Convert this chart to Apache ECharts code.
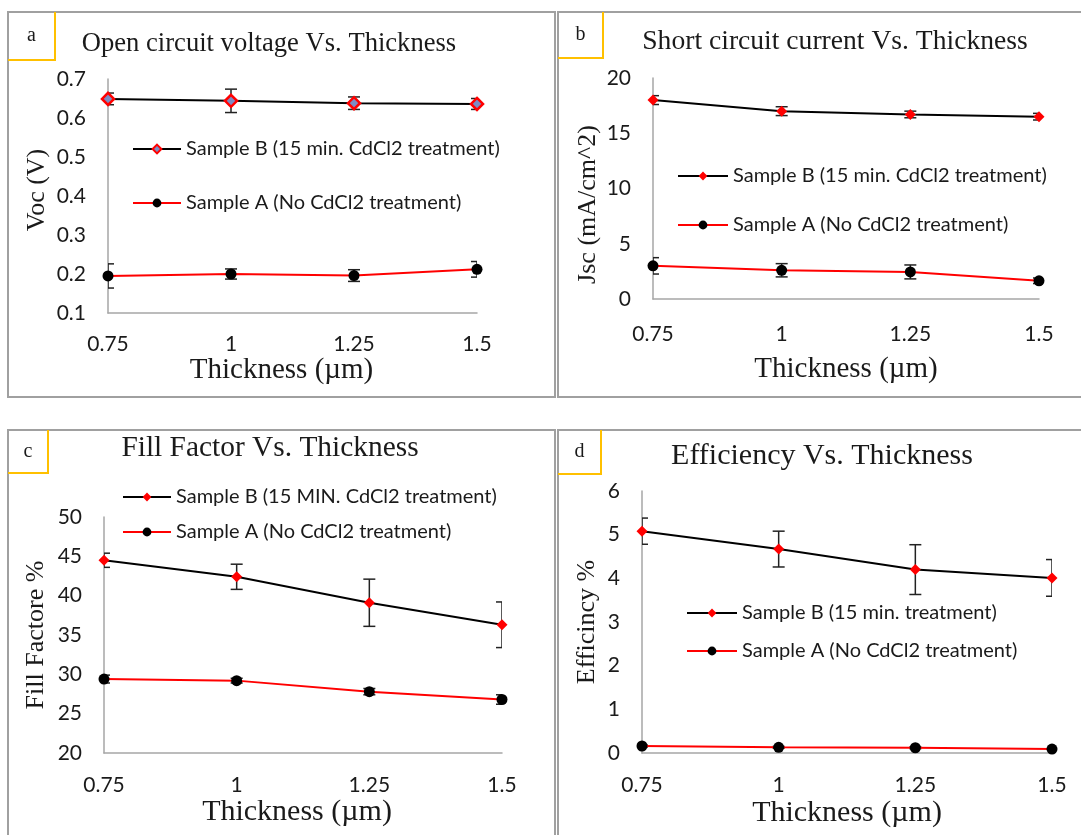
<!DOCTYPE html>
<html>
<head>
<meta charset="utf-8">
<title>CdTe cell parameters vs. thickness</title>
<script src="https://cdn.jsdelivr.net/npm/echarts@6/dist/echarts.min.js"></script>
<style>
  html, body { margin: 0; padding: 0; background: #ffffff; }
  #chart { width: 1081px; height: 835px; }
</style>
</head>
<body>
<div id="chart"></div>
<script>
// Absorber thickness (µm)
const thickness = [0.75, 1, 1.25, 1.5];

// (a) open circuit voltage, V
const vocB = [0.649, 0.644, 0.638, 0.636];
const vocBErr = [0.015, 0.03, 0.016, 0.014];
const vocA = [0.195, 0.200, 0.196, 0.212];
const vocAErr = [0.031, 0.013, 0.015, 0.02];

// (b) short circuit current density, mA/cm^2
const jscB = [18.0, 17.0, 16.7, 16.5];
const jscBErr = [0.4, 0.4, 0.3, 0.3];
const jscA = [3.0, 2.6, 2.45, 1.65];
const jscAErr = [0.74, 0.6, 0.63, 0.25];

// (c) fill factor, %
const ffB = [44.5, 42.4, 39.1, 36.3];
const ffBErr = [0.9, 1.6, 3.0, 2.9];
const ffA = [29.4, 29.2, 27.8, 26.8];
const ffAErr = [0.5, 0.3, 0.4, 0.6];

// (d) efficiency, %
const effB = [5.08, 4.67, 4.20, 4.01];
const effBErr = [0.30, 0.41, 0.57, 0.42];
const effA = [0.16, 0.13, 0.12, 0.09];
const effAErr = [0.02, 0.02, 0.02, 0.0];

// Legend wording per panel
const legendText = {
  vocB: 'Sample B (15 min. CdCl2 treatment)',
  vocA: 'Sample A (No CdCl2 treatment)',
  jscB: 'Sample B (15 min. CdCl2 treatment)',
  jscA: 'Sample A (No CdCl2 treatment)',
  ffB: 'Sample B (15 MIN. CdCl2 treatment)',
  ffA: 'Sample A (No CdCl2 treatment)',
  effB: 'Sample B (15 min. treatment)',
  effA: 'Sample A (No CdCl2 treatment)'
};

const panelTitles = ['Open circuit voltage Vs. Thickness', 'Short circuit current Vs. Thickness',
                     'Fill Factor Vs. Thickness', 'Efficiency Vs. Thickness'];
const panelLetters = ['a', 'b', 'c', 'd'];
const yNames = ['Voc (V)', 'Jsc (mA/cm^2)', 'Fill Factore %', 'Efficincy %'];
const xName = 'Thickness (µm)';

const SERIF = "'Liberation Serif', 'Times New Roman', serif";
const SANS = "Lato, 'Open Sans', sans-serif";
const TXT = '#1a1a1a';
const FRAME = '#a0a0a0';
const AXIS = '#a6a6a6';

// plot-area layout of each panel
const grids = [
  { left: 108, top: 79, width: 369, height: 234 },
  { left: 653, top: 78, width: 386, height: 221 },
  { left: 104, top: 517, width: 398, height: 236 },
  { left: 642, top: 491, width: 410, height: 262 }
];
const yRanges = [
  { min: 0.1, max: 0.7, interval: 0.1 },
  { min: 0, max: 20, interval: 5 },
  { min: 20, max: 50, interval: 5 },
  { min: 0, max: 6, interval: 1 }
];

const xLabelMargin = [21, 25, 22, 22];
const xNameGap = [42, 56, 44, 45];
const xNameSize = [29, 29, 30, 30];
const xNamePad = [[0, 22, 0, 0], 0, [0, 12, 0, 0], 0];
const yNameGap = [58, 52, 55, 42];
const yNamePad = [[0, 0, 0, 12], [0, 32, 0, 0], 0, 0];
const legends = [
  { left: 132, top: 139, itemGap: 34, itemWidth: 48 },
  { left: 677, top: 166, itemGap: 29, itemWidth: 50 },
  { left: 122, top: 487, itemGap: 15, itemWidth: 48 },
  { left: 686, top: 603, itemGap: 18, itemWidth: 50 }
];

function pairs(vals) { return thickness.map((x, i) => [x, vals[i]]); }
function bars(vals, errs) { return thickness.map((x, i) => [x, vals[i] - errs[i], vals[i] + errs[i]]); }

// vertical error bars with caps, clipped to the plot area
function errorBarSeries(idx, vals, errs) {
  return {
    type: 'custom',
    xAxisIndex: idx, yAxisIndex: idx,
    data: bars(vals, errs),
    encode: { x: 0, y: [1, 2] },
    clip: true,
    silent: true,
    z: 2,
    renderItem: function (params, api) {
      const x = api.value(0);
      const lo = api.coord([x, api.value(1)]);
      const hi = api.coord([x, api.value(2)]);
      const w = 6;
      const style = { stroke: '#222', lineWidth: 1.5, fill: null };
      return {
        type: 'group',
        children: [
          { type: 'line', shape: { x1: lo[0], y1: lo[1], x2: hi[0], y2: hi[1] }, style: style },
          { type: 'line', shape: { x1: hi[0] - w, y1: hi[1], x2: hi[0] + w, y2: hi[1] }, style: style },
          { type: 'line', shape: { x1: lo[0] - w, y1: lo[1], x2: lo[0] + w, y2: lo[1] }, style: style }
        ]
      };
    }
  };
}

function sampleB(idx, key, vals, fill) {
  return {
    type: 'line', name: key,
    xAxisIndex: idx, yAxisIndex: idx,
    data: pairs(vals),
    symbol: 'diamond', symbolSize: fill ? 12 : 11,
    showAllSymbol: true,
    lineStyle: { color: '#000000', width: 2 },
    itemStyle: fill
      ? { color: fill, borderColor: '#ff0000', borderWidth: 2.5 }
      : { color: '#ff0000' },
    z: 4, silent: true, animation: false
  };
}

function sampleA(idx, key, vals) {
  return {
    type: 'line', name: key,
    xAxisIndex: idx, yAxisIndex: idx,
    data: pairs(vals),
    symbol: 'circle', symbolSize: 11,
    lineStyle: { color: '#ff0000', width: 2 },
    itemStyle: { color: '#000000' },
    z: 3, silent: true, animation: false
  };
}

const series = [
  errorBarSeries(0, vocB, vocBErr), errorBarSeries(0, vocA, vocAErr),
  sampleB(0, 'vocB', vocB, '#7d8cc4'), sampleA(0, 'vocA', vocA),
  errorBarSeries(1, jscB, jscBErr), errorBarSeries(1, jscA, jscAErr),
  sampleB(1, 'jscB', jscB), sampleA(1, 'jscA', jscA),
  errorBarSeries(2, ffB, ffBErr), errorBarSeries(2, ffA, ffAErr),
  sampleB(2, 'ffB', ffB), sampleA(2, 'ffA', ffA),
  errorBarSeries(3, effB, effBErr), errorBarSeries(3, effA, effAErr),
  sampleB(3, 'effB', effB), sampleA(3, 'effA', effA)
];

const legendKeys = [['vocB', 'vocA'], ['jscB', 'jscA'], ['ffB', 'ffA'], ['effB', 'effA']];

const xAxes = grids.map((g, i) => ({
  type: 'value', gridIndex: i,
  min: 0.75, max: 1.5, interval: 0.25,
  axisLine: { show: true, lineStyle: { color: AXIS, width: 1.5 } },
  axisTick: { show: false },
  splitLine: { show: false },
  axisLabel: { color: TXT, fontFamily: SANS, fontSize: 21, margin: xLabelMargin[i] },
  name: xName, nameLocation: 'middle', nameGap: xNameGap[i],
  nameTextStyle: { color: TXT, fontFamily: SERIF, fontSize: xNameSize[i], padding: xNamePad[i] }
}));

const yAxes = grids.map((g, i) => ({
  type: 'value', gridIndex: i,
  min: yRanges[i].min, max: yRanges[i].max, interval: yRanges[i].interval,
  axisLine: { show: true, lineStyle: { color: AXIS, width: 1.5 } },
  axisTick: { show: false },
  splitLine: { show: false },
  axisLabel: { color: TXT, fontFamily: SANS, fontSize: 21, margin: 22 },
  name: yNames[i], nameLocation: 'middle', nameGap: yNameGap[i], nameRotate: 90,
  nameTextStyle: { color: TXT, fontFamily: SERIF, fontSize: 26, padding: yNamePad[i] }
}));

const legendOpts = legends.map((l, i) => ({
  orient: 'vertical', left: l.left, top: l.top, padding: 0,
  itemGap: l.itemGap, itemWidth: l.itemWidth, itemHeight: 11,
  data: legendKeys[i],
  formatter: (name) => legendText[name],
  textStyle: { color: TXT, fontFamily: SANS, fontSize: 20 },
  selectedMode: false
}));

// Panel frames, letter boxes and titles
const frames = [
  { x: 8, y: 12, w: 547, h: 385 },
  { x: 558, y: 12, w: 540, h: 385 },
  { x: 8, y: 430, w: 547, h: 420 },
  { x: 558, y: 430, w: 540, h: 420 }
];
const letterBox = [
  { r: 55, b: 60 }, { r: 603, b: 58 }, { r: 48, b: 473 }, { r: 601, b: 474 }
];
const titlePos = [
  { x: 269, y: 44, size: 26.6 }, { x: 835, y: 42, size: 27.6 },
  { x: 270, y: 448, size: 29.4 }, { x: 822, y: 456, size: 30 }
];

const graphics = [];
frames.forEach((f, i) => {
  graphics.push({ type: 'rect', shape: { x: f.x, y: f.y, width: f.w, height: f.h },
                  style: { fill: null, stroke: FRAME, lineWidth: 2 }, silent: true });
  const lb = letterBox[i];
  graphics.push({ type: 'polyline', shape: { points: [[lb.r, f.y], [lb.r, lb.b], [f.x, lb.b]] },
                  style: { stroke: '#ffc000', lineWidth: 2, fill: null }, silent: true });
  graphics.push({ type: 'text', x: (f.x + lb.r) / 2, y: (f.y + lb.b) / 2,
                  style: { text: panelLetters[i], fill: TXT, font: '20px ' + SERIF,
                           textAlign: 'center', textVerticalAlign: 'middle' }, silent: true });
  const t = titlePos[i];
  graphics.push({ type: 'text', x: t.x, y: t.y,
                  style: { text: panelTitles[i], fill: TXT, font: t.size + 'px ' + SERIF,
                           textAlign: 'center', textVerticalAlign: 'middle' }, silent: true });
});

const chart = echarts.init(document.getElementById('chart'), null, { renderer: 'canvas' });
chart.setOption({
  animation: false,
  backgroundColor: '#ffffff',
  grid: grids.map(g => Object.assign({ containLabel: false }, g)),
  xAxis: xAxes,
  yAxis: yAxes,
  legend: legendOpts,
  series: series,
  graphic: graphics
});
</script>
</body>
</html>
